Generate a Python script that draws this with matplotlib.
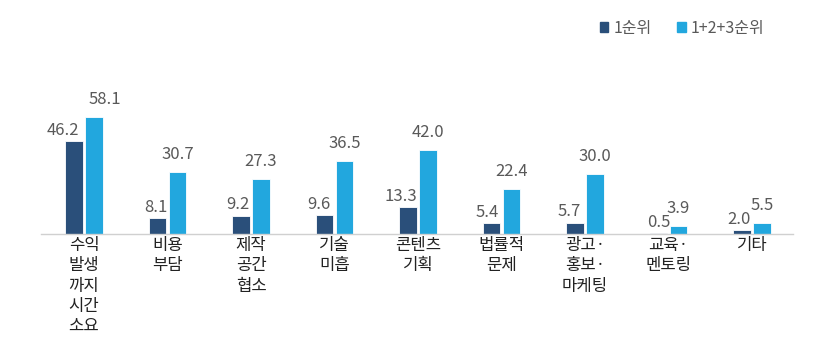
import matplotlib
matplotlib.use("Agg")
import matplotlib.pyplot as plt
from matplotlib.patches import Patch
import numpy as np

plt.rcParams['font.family'] = ['Noto Sans CJK KR', 'DejaVu Sans']

categories = ["수익\n발생\n까지\n시간\n소요", "비용\n부담", "제작\n공간\n협소", "기술\n미흡",
              "콘텐츠\n기획", "법률적\n문제", "광고·\n홍보·\n마케팅", "교육·\n멘토링", "기타"]
first_rank = [46.2, 8.1, 9.2, 9.6, 13.3, 5.4, 5.7, 0.5, 2.0]
top3_rank = [58.1, 30.7, 27.3, 36.5, 42.0, 22.4, 30.0, 3.9, 5.5]
series_names = ["1순위", "1+2+3순위"]

dark = "#2A4F7A"
light = "#22A7DE"
text_gray = "#595959"

W, H = 827, 340
fig = plt.figure(figsize=(W / 100, H / 100), dpi=100)
base_y = 234
ymax = 65
px_per_unit = 2.01
ax = fig.add_axes([41 / W, (H - base_y) / H, 752 / W, ymax * px_per_unit / H])

x = np.arange(len(categories))
bw = 0.21
off = 0.12
ax.bar(x - off, first_rank, bw, color=dark, edgecolor="white", linewidth=0.6)
ax.bar(x + off, top3_rank, bw, color=light, edgecolor="white", linewidth=0.6)

ax.set_xlim(-0.515, 8.49)
ax.set_ylim(0, ymax)

dark_nudge = [-8, -1, -2, -4, -5, -3, -4, 0, -2]
light_nudge = [8, 0, 0, 0, 0, 0, 0, 0, 0]
for i, (v1, v2) in enumerate(zip(first_rank, top3_rank)):
    ax.annotate(f"{v1:.1f}", (x[i] - off, v1), xytext=(dark_nudge[i], 1.5),
                textcoords="offset points", ha="center", va="bottom",
                fontsize=12, color=text_gray)
    ax.annotate(f"{v2:.1f}", (x[i] + off, v2), xytext=(light_nudge[i], 6.5),
                textcoords="offset points", ha="center", va="bottom",
                fontsize=12, color=text_gray)

for s in ["top", "right", "left"]:
    ax.spines[s].set_visible(False)
ax.spines["bottom"].set_color("#d0d0d0")
ax.spines["bottom"].set_linewidth(1.0)
ax.set_yticks([])
ax.set_xticks(x)
ax.set_xticklabels(categories, fontsize=12, color="#222222", linespacing=1.26)
ax.tick_params(axis="x", length=0, pad=2)

handles = [Patch(color=dark), Patch(color=light)]
fig.legend(handles, series_names, loc="center", bbox_to_anchor=(682 / W, 1 - 28 / H),
           ncol=2, frameon=False, fontsize=11.5, labelcolor=text_gray,
           handlelength=0.55, handleheight=0.55, handletextpad=0.3, columnspacing=1.6)

fig.savefig("out.png", dpi=100, facecolor="white")
